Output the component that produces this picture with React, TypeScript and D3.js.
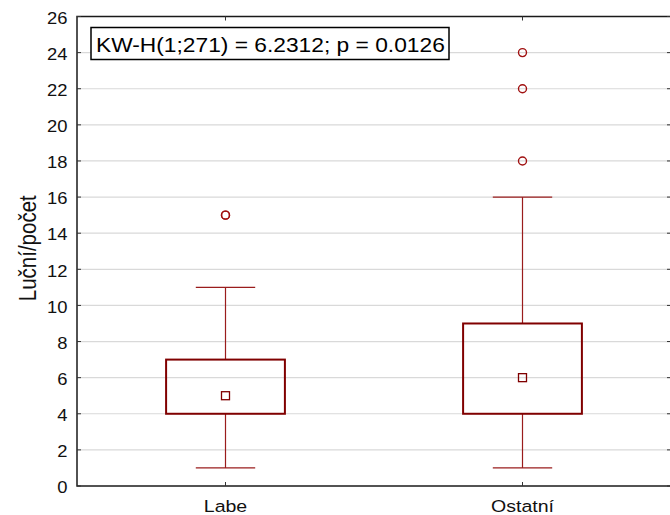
import * as d3 from 'd3';
import { useEffect, useRef } from 'react';

const categories = ['Labe', 'Ostatní'];
const whiskerLow = [1, 1];
const q1 = [4, 4];
const medians = [5, 6];
const q3 = [7, 9];
const whiskerHigh = [11, 16];
const outliers = [[15, 15], [18, 22, 24]];
const yTicks = [0, 2, 4, 6, 8, 10, 12, 14, 16, 18, 20, 22, 24, 26];
const yLabel = 'Luční/počet';
const statText = 'KW-H(1;271) = 6.2312; p = 0.0126';

// the original picture is a bit wider than tall, text looks stretched
const stretch = 1.15;

const App = () => {
  const svgRef = useRef<SVGSVGElement | null>(null);

  useEffect(() => {
    if (!svgRef.current) return;
    const width = 670;
    const height = 515;
    const margin = { top: 16.5, right: -1, bottom: 29, left: 77 };
    const font = '"Liberation Sans", Arial, sans-serif';

    const svg = d3.select(svgRef.current)
      .html('')
      .attr('width', width)
      .attr('height', height)
      .style('font-family', font);

    const x = d3.scaleBand()
      .domain(categories)
      .range([margin.left, width - margin.right]);
    const y = d3.scaleLinear()
      .domain([0, 26])
      .range([height - margin.bottom, margin.top]);

    const left = margin.left;
    const right = width - margin.right;
    const top = margin.top;
    const bottom = height - margin.bottom;

    // grid
    svg.append('g')
      .selectAll('line')
      .data(yTicks.slice(1, -1))
      .enter().append('line')
      .attr('x1', left)
      .attr('x2', right)
      .attr('y1', d => y(d))
      .attr('y2', d => y(d))
      .attr('stroke', '#d9d9d9')
      .attr('stroke-width', 1.2);

    // frame
    svg.append('rect')
      .attr('x', left)
      .attr('y', top)
      .attr('width', right - left)
      .attr('height', bottom - top)
      .attr('fill', 'none')
      .attr('stroke', '#1a1a1a')
      .attr('stroke-width', 1.5);

    // y ticks + labels
    const yt = svg.append('g');
    yTicks.forEach(t => {
      yt.append('line')
        .attr('x1', left).attr('x2', left + 4)
        .attr('y1', y(t)).attr('y2', y(t))
        .attr('stroke', '#333');
      yt.append('line')
        .attr('x1', right - 4).attr('x2', right)
        .attr('y1', y(t)).attr('y2', y(t))
        .attr('stroke', '#333');
      yt.append('text')
        .attr('transform', `translate(${left - 9.5},${y(t)}) scale(${stretch},1)`)
        .attr('dy', '0.45em')
        .attr('text-anchor', 'end')
        .attr('fill', '#111')
        .style('font-size', '16px')
        .text(t);
    });

    // x ticks + labels
    categories.forEach(c => {
      const cx = x(c)! + x.bandwidth() / 2;
      svg.append('line')
        .attr('x1', cx).attr('x2', cx)
        .attr('y1', bottom).attr('y2', bottom - 4)
        .attr('stroke', '#333');
      svg.append('line')
        .attr('x1', cx).attr('x2', cx)
        .attr('y1', top).attr('y2', top + 4)
        .attr('stroke', '#333');
      svg.append('text')
        .attr('transform', `translate(${cx},${bottom + 26}) scale(${stretch},1)`)
        .attr('text-anchor', 'middle')
        .attr('fill', '#111')
        .style('font-size', '17px')
        .text(c);
    });

    // y label
    svg.append('text')
      .attr('transform', `translate(36,${(top + bottom) / 2 - 3}) rotate(-90) scale(1,${stretch})`)
      .attr('text-anchor', 'middle')
      .attr('fill', '#111')
      .style('font-size', '20.5px')
      .text(yLabel);

    // boxes
    const boxColor = '#800000';
    const whiskColor = '#9a1c1c';
    categories.forEach((c, i) => {
      const cx = x(c)! + x.bandwidth() / 2;
      const bw = x.bandwidth() * 0.4;
      const cw = x.bandwidth() * 0.2;
      const g = svg.append('g');

      g.append('line')
        .attr('x1', cx).attr('x2', cx)
        .attr('y1', y(whiskerLow[i])).attr('y2', y(q1[i]))
        .attr('stroke', whiskColor).attr('stroke-width', 1.2);
      g.append('line')
        .attr('x1', cx).attr('x2', cx)
        .attr('y1', y(q3[i])).attr('y2', y(whiskerHigh[i]))
        .attr('stroke', whiskColor).attr('stroke-width', 1.2);
      [whiskerLow[i], whiskerHigh[i]].forEach(v => {
        g.append('line')
          .attr('x1', cx - cw / 2).attr('x2', cx + cw / 2)
          .attr('y1', y(v)).attr('y2', y(v))
          .attr('stroke', whiskColor).attr('stroke-width', 1.2);
      });
      g.append('rect')
        .attr('x', cx - bw / 2)
        .attr('y', y(q3[i]))
        .attr('width', bw)
        .attr('height', y(q1[i]) - y(q3[i]))
        .attr('fill', 'none')
        .attr('stroke', boxColor)
        .attr('stroke-width', 2);
      g.append('rect')
        .attr('x', cx - 4)
        .attr('y', y(medians[i]) - 4)
        .attr('width', 8)
        .attr('height', 8)
        .attr('fill', 'none')
        .attr('stroke', boxColor)
        .attr('stroke-width', 1.3);
      outliers[i].forEach(o => {
        g.append('circle')
          .attr('cx', cx)
          .attr('cy', y(o))
          .attr('r', 4)
          .attr('fill', 'none')
          .attr('stroke', '#a01010')
          .attr('stroke-width', 1.4);
      });
    });

    // annotation box
    const ann = svg.append('g');
    ann.append('rect')
      .attr('x', 91)
      .attr('y', 27.5)
      .attr('width', 358)
      .attr('height', 32)
      .attr('fill', '#fff')
      .attr('stroke', '#000')
      .attr('stroke-width', 1.5);
    ann.append('text')
      .attr('transform', `translate(96,52) scale(${stretch},1)`)
      .attr('fill', '#000')
      .style('font-size', '19.8px')
      .text(statText);
  }, []);

  return <svg ref={svgRef} style={{ position: 'absolute', left: 0, top: 0 }} />;
};

export default App;
